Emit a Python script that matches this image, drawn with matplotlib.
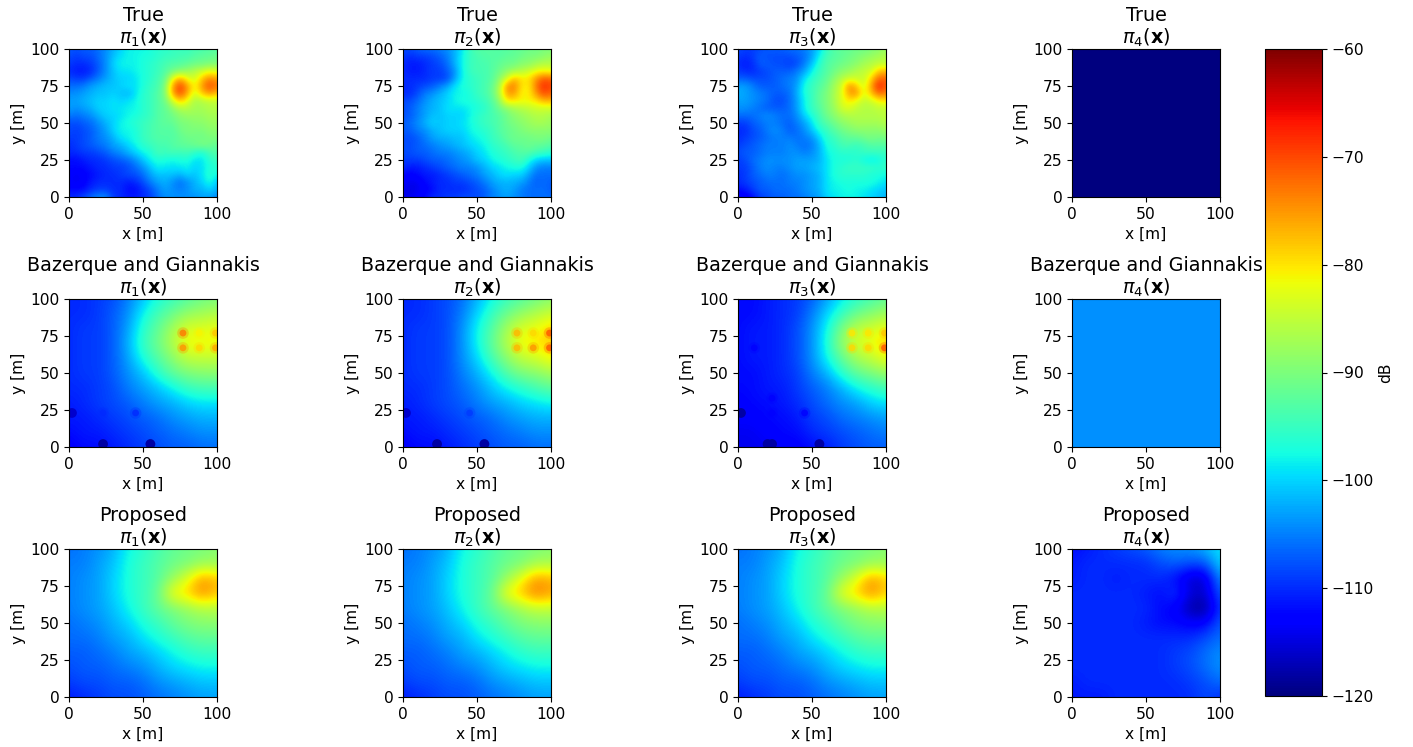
#!/usr/bin/env python
import matplotlib
matplotlib.use('Agg')
import matplotlib.pyplot as plt
import numpy as np

W, H = 1413, 747

# values in dB, rows go from y=100 down to y=0, evenly spaced over 0..100 m
true_1 = [
    [-107, -108, -107, -107, -106, -104, -102, -100, -98, -98, -98, -97, -96, -96, -95, -95, -95, -94, -94, -93, -93],
    [-108, -109, -108, -108, -106, -104, -101, -99, -98, -98, -97, -97, -96, -95, -95, -94, -94, -93, -92, -92, -91],
    [-109, -110, -110, -109, -107, -104, -100, -98, -98, -98, -97, -96, -95, -94, -93, -93, -92, -91, -91, -90, -90],
    [-110, -111, -111, -110, -107, -104, -101, -99, -99, -98, -97, -96, -95, -93, -91, -89, -88, -86, -84, -82, -83],
    [-108, -109, -109, -107, -105, -103, -101, -100, -100, -99, -97, -96, -94, -92, -82, -76, -82, -84, -78, -74, -76],
    [-106, -106, -105, -103, -102, -101, -101, -100, -99, -99, -97, -95, -94, -90, -76, -69, -75, -82, -75, -70, -73],
    [-104, -104, -103, -102, -101, -101, -100, -101, -102, -99, -96, -95, -93, -90, -76, -70, -76, -84, -78, -75, -78],
    [-103, -103, -102, -101, -100, -100, -99, -100, -99, -98, -96, -95, -93, -91, -84, -78, -82, -87, -86, -85, -85],
    [-103, -104, -103, -102, -100, -100, -99, -99, -98, -98, -96, -95, -93, -92, -89, -86, -86, -87, -87, -86, -86],
    [-105, -106, -105, -104, -102, -100, -100, -99, -98, -97, -96, -95, -93, -92, -91, -89, -88, -88, -88, -87, -87],
    [-108, -108, -107, -106, -104, -102, -100, -98, -97, -96, -95, -94, -93, -92, -92, -90, -90, -89, -89, -88, -88],
    [-108, -109, -108, -107, -105, -103, -100, -98, -98, -97, -95, -94, -93, -93, -93, -91, -90, -90, -90, -89, -89],
    [-109, -109, -108, -107, -105, -104, -102, -99, -98, -97, -95, -94, -93, -93, -93, -92, -91, -91, -91, -90, -90],
    [-110, -109, -108, -107, -106, -105, -103, -102, -100, -98, -96, -95, -94, -94, -93, -92, -92, -91, -90, -91, -92],
    [-110, -110, -109, -109, -108, -107, -105, -104, -102, -100, -98, -97, -94, -95, -94, -95, -94, -96, -97, -94, -93],
    [-112, -112, -111, -110, -110, -109, -108, -107, -106, -104, -101, -98, -97, -97, -98, -97, -97, -99, -99, -96, -95],
    [-112, -112, -112, -111, -110, -110, -109, -109, -108, -106, -104, -101, -98, -99, -99, -99, -98, -100, -99, -97, -96],
    [-113, -114, -113, -112, -111, -110, -110, -109, -108, -108, -106, -103, -101, -101, -101, -102, -100, -101, -99, -96, -98],
    [-113, -114, -113, -111, -110, -110, -110, -110, -111, -110, -108, -105, -103, -102, -104, -106, -104, -102, -100, -97, -101],
    [-112, -112, -112, -110, -109, -109, -110, -110, -112, -112, -110, -108, -105, -103, -104, -105, -104, -102, -102, -100, -102],
    [-110, -110, -108, -106, -104, -104, -109, -110, -111, -111, -110, -109, -106, -104, -104, -104, -104, -104, -103, -103, -105],
]
true_2 = [
    [-108, -108, -107, -106, -106, -105, -104, -102, -99, -95, -93, -93, -93, -93, -93, -92, -92, -91, -91, -90, -90],
    [-109, -110, -109, -109, -108, -107, -105, -102, -98, -95, -94, -93, -93, -93, -92, -92, -91, -90, -90, -89, -88],
    [-110, -111, -111, -110, -109, -108, -106, -102, -98, -95, -94, -94, -93, -92, -91, -91, -89, -89, -87, -86, -86],
    [-110, -111, -111, -110, -109, -109, -107, -104, -98, -95, -94, -94, -93, -91, -89, -87, -86, -84, -82, -81, -82],
    [-110, -110, -110, -110, -109, -109, -108, -103, -98, -96, -95, -94, -93, -89, -84, -77, -80, -80, -75, -71, -72],
    [-110, -110, -109, -108, -107, -105, -103, -99, -97, -96, -95, -94, -92, -87, -75, -73, -80, -81, -73, -68, -70],
    [-110, -110, -108, -105, -104, -102, -100, -98, -98, -97, -95, -94, -92, -86, -76, -75, -81, -81, -75, -70, -72],
    [-108, -108, -106, -104, -102, -101, -100, -98, -97, -97, -96, -95, -93, -89, -80, -80, -81, -81, -80, -77, -77],
    [-108, -107, -105, -103, -102, -101, -99, -99, -99, -98, -97, -96, -94, -91, -89, -87, -86, -85, -84, -84, -84],
    [-108, -107, -105, -103, -101, -101, -100, -100, -100, -98, -96, -95, -94, -93, -91, -89, -88, -87, -86, -86, -87],
    [-107, -106, -104, -102, -100, -101, -100, -100, -99, -98, -96, -95, -94, -93, -91, -90, -89, -88, -87, -87, -88],
    [-107, -107, -105, -104, -102, -101, -100, -100, -100, -98, -97, -96, -95, -93, -92, -91, -90, -89, -89, -89, -89],
    [-108, -108, -107, -105, -103, -102, -102, -101, -101, -99, -98, -97, -95, -94, -92, -91, -91, -91, -90, -90, -91],
    [-108, -108, -107, -106, -105, -104, -103, -102, -101, -100, -99, -98, -96, -95, -94, -92, -92, -91, -92, -92, -93],
    [-108, -108, -107, -107, -106, -105, -105, -104, -103, -102, -100, -99, -97, -96, -95, -94, -93, -93, -94, -95, -96],
    [-109, -109, -109, -108, -107, -107, -106, -105, -104, -103, -101, -100, -98, -97, -96, -95, -94, -97, -100, -101, -101],
    [-110, -111, -111, -110, -109, -108, -107, -106, -105, -105, -104, -102, -100, -99, -98, -97, -97, -100, -104, -105, -105],
    [-112, -113, -112, -111, -111, -110, -109, -108, -107, -106, -105, -103, -102, -100, -99, -100, -100, -103, -106, -106, -106],
    [-113, -114, -114, -112, -111, -110, -110, -109, -109, -108, -107, -105, -103, -102, -102, -102, -103, -105, -107, -106, -107],
    [-114, -115, -114, -113, -112, -110, -110, -110, -110, -109, -108, -107, -105, -103, -102, -103, -105, -106, -106, -106, -107],
    [-114, -114, -113, -112, -110, -110, -109, -109, -108, -108, -108, -107, -105, -104, -103, -104, -105, -106, -106, -106, -106],
]
true_3 = [
    [-108, -109, -109, -108, -107, -107, -107, -106, -106, -105, -103, -100, -95, -93, -92, -92, -91, -91, -90, -89, -88],
    [-109, -110, -109, -107, -108, -108, -108, -108, -107, -106, -103, -98, -94, -93, -92, -91, -90, -89, -88, -87, -86],
    [-110, -111, -110, -107, -107, -108, -108, -109, -108, -105, -101, -96, -93, -92, -91, -90, -89, -87, -86, -85, -85],
    [-109, -110, -110, -109, -108, -107, -107, -107, -105, -103, -98, -95, -93, -91, -89, -88, -86, -85, -84, -78, -77],
    [-107, -107, -108, -108, -108, -107, -106, -105, -104, -99, -96, -94, -92, -89, -86, -84, -84, -85, -79, -72, -72],
    [-103, -103, -105, -107, -107, -107, -106, -105, -103, -97, -95, -93, -91, -87, -84, -74, -78, -84, -76, -67, -71],
    [-102, -103, -104, -105, -106, -107, -107, -106, -102, -97, -95, -92, -90, -87, -83, -76, -74, -83, -78, -72, -74],
    [-103, -103, -104, -105, -106, -108, -108, -106, -103, -98, -95, -92, -90, -87, -83, -80, -82, -85, -84, -81, -80],
    [-104, -104, -105, -106, -107, -107, -107, -106, -103, -98, -95, -93, -90, -88, -84, -83, -85, -86, -86, -85, -85],
    [-106, -106, -106, -105, -104, -105, -106, -106, -104, -100, -97, -94, -91, -89, -87, -86, -86, -86, -86, -86, -85],
    [-109, -109, -107, -106, -105, -105, -106, -107, -105, -103, -99, -95, -93, -91, -89, -88, -87, -87, -87, -87, -86],
    [-110, -110, -108, -107, -105, -104, -105, -107, -106, -104, -101, -97, -95, -93, -91, -90, -89, -89, -89, -89, -88],
    [-110, -109, -108, -107, -106, -105, -105, -105, -106, -105, -104, -100, -96, -95, -93, -92, -92, -91, -90, -91, -90],
    [-109, -108, -107, -106, -105, -105, -105, -104, -105, -106, -105, -102, -97, -96, -94, -94, -95, -94, -93, -93, -93],
    [-108, -107, -107, -106, -105, -105, -105, -104, -104, -105, -104, -102, -98, -97, -96, -96, -96, -95, -95, -95, -95],
    [-109, -108, -106, -105, -104, -104, -104, -104, -103, -103, -103, -102, -99, -97, -97, -97, -96, -98, -99, -98, -96],
    [-109, -109, -107, -105, -104, -105, -105, -104, -103, -103, -102, -101, -99, -97, -96, -95, -95, -95, -95, -96, -95],
    [-110, -109, -107, -106, -105, -105, -106, -105, -104, -104, -103, -102, -99, -97, -96, -96, -96, -96, -97, -97, -98],
    [-110, -109, -108, -107, -106, -106, -106, -105, -105, -104, -103, -102, -99, -98, -97, -97, -97, -97, -97, -98, -99],
    [-112, -111, -109, -107, -107, -106, -106, -106, -105, -104, -103, -102, -99, -98, -98, -97, -98, -98, -99, -100, -101],
    [-114, -114, -112, -109, -108, -107, -107, -106, -106, -105, -104, -103, -100, -99, -98, -98, -98, -99, -100, -101, -102],
]
true_4 = [[-120] * 11] * 11

baz_1 = [
    [-110, -110, -109, -108, -105, -101, -97, -95, -93, -91, -90],
    [-110, -110, -109, -107, -104, -98, -94, -91, -88, -87, -86],
    [-110, -109, -109, -107, -103, -96, -92, -87, -83, -83, -82],
    [-110, -109, -109, -107, -102, -95, -91, -86, -81, -81, -81],
    [-110, -109, -109, -107, -103, -97, -93, -89, -85, -85, -85],
    [-110, -109, -109, -107, -104, -101, -96, -92, -90, -89, -89],
    [-110, -110, -109, -108, -105, -103, -101, -98, -95, -94, -94],
    [-111, -110, -109, -108, -107, -105, -103, -102, -100, -99, -99],
    [-111, -111, -110, -109, -108, -107, -106, -104, -103, -102, -102],
    [-112, -111, -111, -110, -109, -108, -107, -106, -105, -104, -104],
    [-113, -112, -112, -111, -110, -109, -108, -107, -107, -106, -106],
]
baz_2 = [
    [-110, -110, -109, -108, -106, -102, -98, -95, -93, -91, -89],
    [-110, -110, -109, -108, -105, -100, -95, -91, -88, -86, -84],
    [-110, -109, -109, -108, -104, -98, -93, -87, -83, -82, -79],
    [-110, -109, -109, -108, -104, -98, -92, -86, -81, -80, -78],
    [-110, -109, -109, -108, -104, -100, -94, -89, -85, -84, -81],
    [-110, -109, -109, -108, -105, -102, -98, -93, -90, -89, -87],
    [-110, -110, -109, -108, -106, -104, -101, -98, -96, -94, -92],
    [-111, -110, -109, -108, -107, -105, -103, -102, -100, -99, -98],
    [-111, -111, -110, -109, -108, -107, -106, -104, -103, -102, -102],
    [-112, -111, -111, -110, -109, -108, -107, -106, -105, -104, -104],
    [-113, -112, -112, -111, -110, -109, -108, -107, -107, -106, -106],
]
baz_3 = [
    [-112, -112, -111, -110, -109, -107, -103, -99, -96, -94, -92],
    [-112, -112, -111, -110, -109, -105, -100, -95, -91, -89, -87],
    [-112, -111, -111, -110, -108, -104, -98, -90, -85, -84, -82],
    [-112, -111, -111, -110, -108, -104, -97, -88, -83, -82, -78],
    [-112, -111, -111, -110, -108, -104, -98, -92, -87, -85, -82],
    [-112, -112, -111, -110, -109, -105, -102, -96, -92, -90, -88],
    [-112, -112, -111, -111, -109, -107, -105, -102, -98, -96, -94],
    [-113, -112, -112, -111, -110, -108, -106, -104, -103, -100, -99],
    [-113, -113, -112, -112, -111, -109, -108, -106, -105, -104, -103],
    [-114, -114, -113, -112, -112, -110, -109, -108, -107, -106, -105],
    [-114, -114, -114, -113, -113, -112, -111, -109, -108, -107, -107],
]
baz_4 = [[-104] * 11] * 11

prop_1 = [
    [-106, -105, -104, -102, -98, -96, -94, -92, -91, -90, -89],
    [-105, -105, -103, -101, -97, -95, -93, -91, -90, -88, -88],
    [-105, -104, -103, -100, -97, -95, -93, -88, -83, -75, -78],
    [-105, -104, -103, -100, -97, -95, -92, -81, -79, -74, -78],
    [-105, -104, -103, -101, -98, -95, -92, -90, -88, -86, -86],
    [-106, -105, -104, -102, -100, -97, -95, -92, -90, -89, -89],
    [-106, -106, -105, -103, -102, -99, -97, -95, -93, -92, -92],
    [-107, -107, -106, -105, -103, -102, -100, -98, -96, -95, -95],
    [-108, -107, -107, -106, -105, -104, -102, -100, -99, -98, -98],
    [-109, -108, -108, -107, -107, -106, -104, -103, -102, -101, -101],
    [-111, -110, -109, -108, -108, -107, -106, -105, -104, -103, -103],
]
prop_2 = [
    [-106, -105, -104, -102, -98, -96, -94, -92, -91, -90, -89],
    [-105, -105, -103, -101, -97, -95, -93, -91, -90, -87, -87],
    [-105, -104, -103, -100, -97, -95, -93, -88, -82, -75, -77],
    [-105, -104, -103, -100, -97, -95, -92, -81, -78, -73, -76],
    [-105, -104, -103, -101, -98, -95, -92, -90, -87, -85, -85],
    [-106, -105, -104, -102, -100, -97, -95, -92, -90, -89, -89],
    [-106, -106, -105, -103, -102, -99, -97, -95, -93, -92, -92],
    [-107, -107, -106, -105, -103, -102, -100, -98, -96, -95, -95],
    [-108, -107, -107, -106, -105, -104, -102, -100, -99, -98, -98],
    [-109, -108, -108, -107, -107, -106, -104, -103, -102, -101, -101],
    [-111, -110, -109, -108, -108, -107, -106, -105, -104, -103, -103],
]
prop_3 = [
    [-106, -105, -104, -102, -98, -96, -94, -92, -91, -90, -89],
    [-105, -105, -103, -101, -97, -95, -93, -91, -90, -88, -88],
    [-105, -104, -103, -100, -97, -95, -93, -88, -83, -75, -79],
    [-105, -104, -103, -100, -97, -95, -92, -82, -79, -74, -79],
    [-105, -104, -103, -101, -98, -95, -92, -90, -88, -86, -86],
    [-106, -105, -104, -102, -100, -97, -95, -92, -90, -89, -89],
    [-106, -106, -105, -103, -102, -99, -97, -95, -93, -92, -92],
    [-107, -107, -106, -105, -103, -102, -100, -98, -96, -95, -95],
    [-108, -107, -107, -106, -105, -104, -102, -100, -99, -98, -98],
    [-109, -108, -108, -107, -107, -106, -104, -103, -102, -101, -101],
    [-111, -110, -109, -108, -108, -107, -106, -105, -104, -103, -103],
]
prop_4 = [
    [-112, -111, -110, -109, -108, -107, -105, -104, -104, -102, -99],
    [-111, -110, -110, -110, -110, -110, -108, -107, -108, -108, -100],
    [-111, -110, -110, -111, -110, -110, -110, -112, -116, -116, -104],
    [-110, -110, -110, -110, -110, -111, -112, -109, -115, -116, -107],
    [-110, -110, -110, -110, -110, -110, -112, -113, -118, -119, -109],
    [-110, -110, -110, -110, -110, -111, -112, -112, -113, -113, -107],
    [-110, -110, -110, -110, -110, -110, -110, -110, -110, -108, -106],
    [-110, -110, -110, -110, -110, -110, -110, -109, -108, -106, -104],
    [-110, -110, -110, -110, -110, -110, -110, -109, -108, -106, -104],
    [-111, -110, -110, -110, -110, -110, -110, -110, -109, -108, -106],
    [-111, -111, -111, -110, -110, -110, -110, -110, -110, -108, -110],
]

# small bumps and dips, (x, y, dB)
baz_spots_1 = [(77, 77, -73), (77, 67, -75), (88, 77, -81), (88, 67, -79), (99, 77, -78), (99, 67, -76),
               (45, 23, -110), (23, 23, -110)]
baz_spots_2 = [(77, 77, -77), (77, 67, -77), (88, 77, -79), (88, 67, -75), (99, 77, -71), (99, 67, -71),
               (45, 23, -109)]
baz_spots_3 = [(77, 77, -80), (77, 67, -79), (88, 77, -80), (88, 67, -79), (99, 77, -78), (99, 67, -71),
               (45, 23, -113), (23, 23, -113), (23, 33, -113), (11, 67, -113)]
# the deep holes along the edges
baz_holes_1 = [(2, 23, -116), (23, 2, -118), (55, 2, -118)]
baz_holes_2 = [(2, 23, -116), (23, 2, -118), (55, 2, -118)]
baz_holes_3 = [(2, 23, -118), (23, 2, -118), (20, 2, -118), (55, 2, -118)]

rows = ['True', 'Bazerque and Giannakis', 'Proposed']
maps = [[true_1, true_2, true_3, true_4],
        [baz_1, baz_2, baz_3, baz_4],
        [prop_1, prop_2, prop_3, prop_4]]
spots = {(1, 0): (baz_spots_1, baz_holes_1),
         (1, 1): (baz_spots_2, baz_holes_2),
         (1, 2): (baz_spots_3, baz_holes_3)}
cbar_ticks = [-60, -70, -80, -90, -100, -110, -120]

col_left = [69, 403, 738, 1072]
row_top = [49, 299, 549]
side = 148


def box(left, top, width, height):
    return [left / W, 1 - (top + height) / H, width / W, height / H]


plt.rcParams['font.size'] = 11.2
fig = plt.figure(figsize=(W / 100, H / 100), dpi=100)
scale = dict(cmap='jet', vmin=-120, vmax=-60, linewidths=0)

for i, name in enumerate(rows):
    for j in range(4):
        ax = fig.add_axes(box(col_left[j], row_top[i], side, side))
        values = np.array(maps[i][j])
        # pixel centres sit on the measuring grid
        half = 50 / (values.shape[0] - 1)
        im = ax.imshow(values, cmap='jet', vmin=-120, vmax=-60, aspect='auto',
                       interpolation='bicubic', extent=[-half, 100 + half, -half, 100 + half])
        if (i, j) in spots:
            bumps, holes = spots[(i, j)]
            xs, ys, vals = zip(*bumps)
            ax.scatter(xs, ys, c=vals, s=70, alpha=0.3, **scale)
            ax.scatter(xs, ys, c=vals, s=24, alpha=0.8, **scale)
            xs, ys, vals = zip(*holes)
            ax.scatter(xs, ys, c=vals, s=50, **scale)
        ax.set_xlim(0, 100)
        ax.set_ylim(0, 100)
        ax.set_xticks([0, 50, 100])
        ax.set_yticks([0, 25, 50, 75, 100])
        ax.set_xlabel('x [m]')
        ax.set_ylabel('y [m]', labelpad=3)
        ax.set_title(name + '\n' + r'$\pi_%d(\mathbf{x})$' % (j + 1), fontsize=13.8, pad=3.5, linespacing=1.1)

cax = fig.add_axes(box(1265, 49, 57, 647))
cbar = fig.colorbar(im, cax=cax, ticks=cbar_ticks)
cbar.set_label('dB', labelpad=3)

plt.savefig('out.png', dpi=100)
plt.close()
